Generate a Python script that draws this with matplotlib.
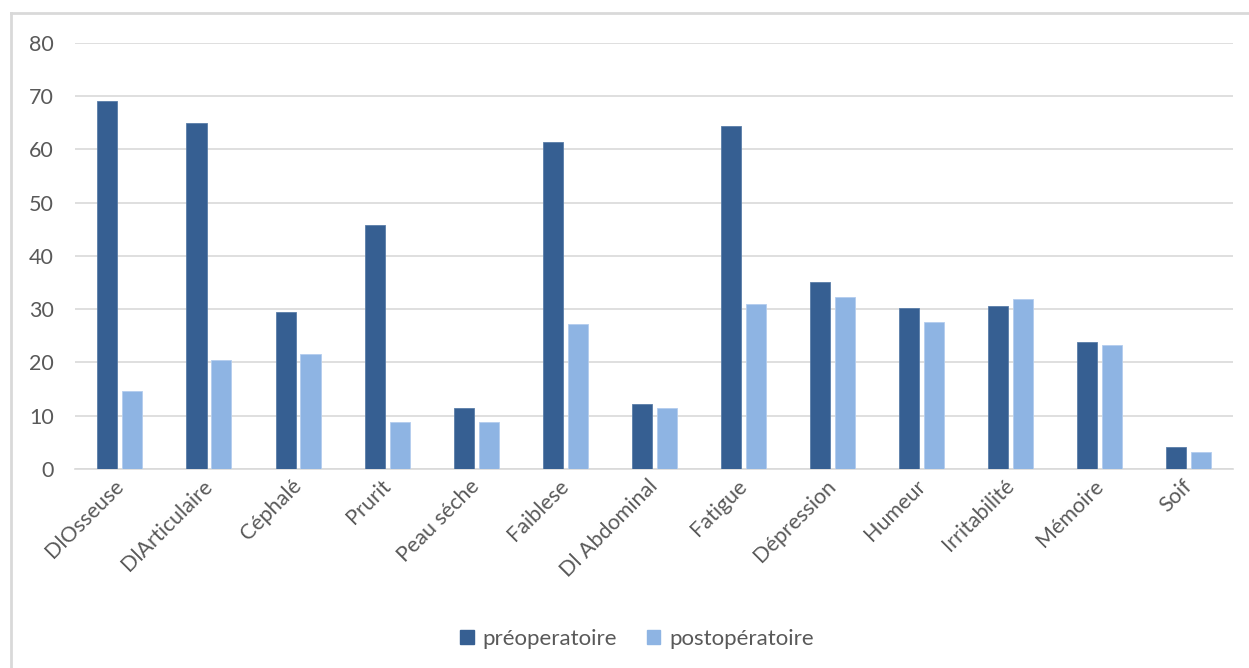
import matplotlib
matplotlib.use("Agg")
import matplotlib.pyplot as plt
import numpy as np
from matplotlib.lines import Line2D
from matplotlib.transforms import ScaledTranslation

categories = ["DlOsseuse", "DlArticulaire", "Céphalé", "Prurit", "Peau séche",
              "Faiblese", "Dl Abdominal", "Fatigue", "Dépression", "Humeur",
              "Irritabilité", "Mémoire", "Soif"]
preop = [69.0, 64.9, 29.4, 45.8, 11.4, 61.4, 12.2, 64.4, 35.1, 30.3, 30.5, 23.9, 4.1]
postop = [14.7, 20.4, 21.6, 8.9, 8.9, 27.2, 11.4, 30.9, 32.2, 27.6, 31.9, 23.3, 3.2]
series_names = ["préoperatoire", "postopératoire"]
y_ticks = [0, 10, 20, 30, 40, 50, 60, 70, 80]

dark = "#365F92"
light = "#8EB4E3"
text_color = "#595959"
grid_color = "#D9D9D9"

plt.rcParams["font.family"] = ["Lato", "DejaVu Sans"]

fig = plt.figure(figsize=(12.49, 6.68), dpi=100)
ax = fig.add_axes([0.060, 0.298, 0.927, 0.638])

x = np.arange(len(categories))
width = 0.225
ax.bar(x - 0.135, preop, width, color=dark, edgecolor="#5A7DA8", linewidth=0.6, zorder=3)
ax.bar(x + 0.145, postop, width, color=light, edgecolor="#B3CDEE", linewidth=0.6, zorder=3)

ax.set_xlim(-0.5, len(categories) - 0.5)
ax.set_ylim(0, 80)
ax.set_yticks(y_ticks)
ax.set_yticklabels([str(v) for v in y_ticks])
ax.yaxis.grid(True, color=grid_color, linewidth=1.2, zorder=0)
ax.set_axisbelow(True)
for side in ["top", "right", "left"]:
    ax.spines[side].set_visible(False)
ax.spines["bottom"].set_color(grid_color)
ax.spines["bottom"].set_linewidth(1.2)

ax.tick_params(axis="y", length=0, pad=15, labelsize=15.5, labelcolor=text_color)
ax.tick_params(axis="x", length=0, pad=10, labelsize=15.5, labelcolor=text_color)
ax.set_xticks(x)
ax.set_xticklabels(categories, rotation=45, ha="right", va="center",
                   rotation_mode="anchor")
shift = ScaledTranslation(1 / 100, 0, fig.dpi_scale_trans)
for lbl in ax.get_xticklabels():
    lbl.set_transform(lbl.get_transform() + shift)

# chart frame (top and left edges)
fig.add_artist(Line2D([11 / 1249, 1.0], [1 - 13 / 668, 1 - 13 / 668],
                      color="#D9D9D9", linewidth=2, transform=fig.transFigure))
fig.add_artist(Line2D([11 / 1249, 11 / 1249], [0, 1 - 13 / 668],
                      color="#D9D9D9", linewidth=2, transform=fig.transFigure))

handles = [plt.Rectangle((0, 0), 1, 1, color=dark),
           plt.Rectangle((0, 0), 1, 1, color=light)]
fig.legend(handles, series_names, loc="center", bbox_to_anchor=(0.51, 0.043),
           ncol=2, frameon=False, fontsize=16, labelcolor=text_color,
           handlelength=0.6, handleheight=0.6, handletextpad=0.4, columnspacing=1.35)

fig.savefig("out.png", dpi=100, facecolor="white")
